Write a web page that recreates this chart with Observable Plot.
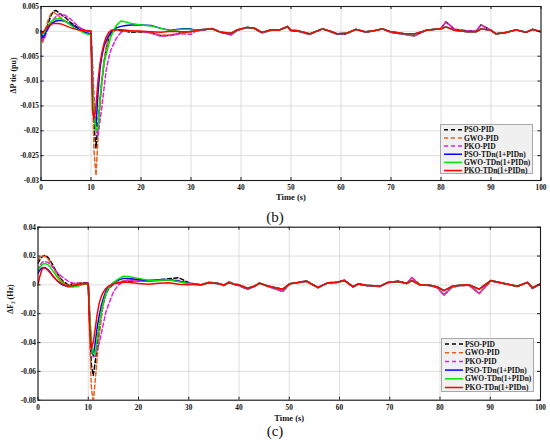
<!DOCTYPE html>
<html>
<head>
<meta charset="utf-8">
<script src="https://cdn.jsdelivr.net/npm/d3@7"></script>
<script src="https://cdn.jsdelivr.net/npm/@observablehq/plot@0.6"></script>
<style>
  html, body { margin: 0; padding: 0; background: #fff; }
  body { width: 550px; height: 445px; overflow: hidden; position: relative; font-family: "Liberation Serif", serif; }
  .panel { position: absolute; left: 0; z-index: 1; }
  .cap { position: absolute; left: 0; width: 550px; text-align: center; font-size: 15px; line-height: 18px; color: #111; z-index: 3; }
  .legend { position: absolute; background: #f0f0f0; border: 0.7px solid #a8a8a8; box-sizing: border-box; z-index: 2; }
  .legend svg { display: block; }
</style>
</head>
<body>
<div id="pb" class="panel" style="top:0px"></div>
<div class="cap" style="top:208px">(b)</div>
<div id="pc" class="panel" style="top:220px"></div>
<div class="cap" style="top:421.5px">(c)</div>
<script>
// ---------- shared ----------
const seriesNames = ["PSO-PID", "GWO-PID", "PKO-PID", "PSO-TDn(1+PIDn)", "GWO-TDn(1+PIDn)", "PKO-TDn(1+PIDn)"];
const seriesColors = ["#000000", "#e8601c", "#e020e0", "#0000ff", "#00e600", "#ff0000"];
const seriesDashed = [true, true, true, false, false, false];
const xTicks = [0, 10, 20, 30, 40, 50, 60, 70, 80, 90, 100];

// transient time grid (s)
const T = [0, 0.3, 0.7, 1, 1.5, 2, 2.5, 3, 3.5, 4, 4.5, 5, 6, 7, 8, 9, 10, 10.3, 10.6, 11, 11.4, 11.8, 12.2, 12.6, 13, 13.5, 14, 15, 16, 17, 18, 20, 22, 24, 26, 28, 30];

// ---------- panel (b): ΔP tie (pu) ----------
const bYTicks = [0.005, 0, -0.005, -0.01, -0.015, -0.02, -0.025, -0.03];
const bPsoPid = [0, -0.0015, -0.0012, 0.0002, 0.0018, 0.0032, 0.0041, 0.0042, 0.0038, 0.0034, 0.0030, 0.0027, 0.0017, 0.0010, 0.0005, 0.0002, 0.0000, -0.0100, -0.0190, -0.0235, -0.0185, -0.0140, -0.0098, -0.0062, -0.0037, -0.0015, -0.0003, 0.0004, 0.0001, 0.0000, -0.0002, -0.0001, -0.0002, -0.0009, -0.0008, -0.0003, 0.0000];
const bGwoPid = [0, -0.0024, -0.0008, 0.0008, 0.0025, 0.0036, 0.0038, 0.0035, 0.0031, 0.0027, 0.0023, 0.0020, 0.0013, 0.0008, 0.0004, 0.0001, 0.0000, -0.0130, -0.0240, -0.0290, -0.0215, -0.0150, -0.0100, -0.0065, -0.0035, -0.0013, -0.0002, 0.0003, 0.0003, 0.0001, 0.0000, -0.0001, -0.0002, -0.0008, -0.0007, -0.0004, -0.0001];
const bPkoPid = [0, -0.0018, -0.0014, -0.0005, 0.0007, 0.0016, 0.0024, 0.0030, 0.0034, 0.0035, 0.0034, 0.0031, 0.0024, 0.0014, 0.0006, 0.0001, -0.0002, -0.0060, -0.0130, -0.0190, -0.0210, -0.0180, -0.0150, -0.0115, -0.0080, -0.0055, -0.0037, -0.0015, -0.0002, 0.0001, 0.0000, 0.0000, -0.0004, -0.0010, -0.0008, -0.0005, -0.0006];
const bPsoTdn = [0, -0.0012, -0.0008, 0.0000, 0.0008, 0.0014, 0.0018, 0.0021, 0.0022, 0.0022, 0.0021, 0.0019, 0.0014, 0.0008, 0.0002, -0.0003, -0.0005, -0.0120, -0.0175, -0.0190, -0.0125, -0.0075, -0.0048, -0.0030, -0.0020, -0.0009, -0.0002, 0.0007, 0.0010, 0.0012, 0.0013, 0.0013, 0.0012, 0.0006, 0.0002, 0.0005, 0.0005];
const bGwoTdn = [0, -0.0006, -0.0002, 0.0005, 0.0013, 0.0019, 0.0023, 0.0025, 0.0026, 0.0025, 0.0022, 0.0019, 0.0012, 0.0005, 0.0000, -0.0005, -0.0007, -0.0100, -0.0160, -0.0200, -0.0195, -0.0135, -0.0095, -0.0064, -0.0048, -0.0028, -0.0010, 0.0011, 0.0021, 0.0019, 0.0016, 0.0013, 0.0011, 0.0006, 0.0001, 0.0004, 0.0004];
const bPkoTdn = [0, -0.0003, 0.0002, 0.0007, 0.0011, 0.0014, 0.0016, 0.0016, 0.0016, 0.0015, 0.0013, 0.0011, 0.0007, 0.0004, 0.0002, 0.0001, 0.0000, -0.0160, -0.0175, -0.0150, -0.0100, -0.0065, -0.0042, -0.0025, -0.0012, -0.0003, 0.0002, 0.0003, 0.0003, 0.0002, 0.0001, 0.0000, -0.0001, -0.0002, 0.0000, -0.0001, -0.0001];
const bTailT = [31, 32, 34.2, 36, 38, 39.2, 41.2, 42.6, 44.2, 45.9, 47.5, 49.3, 50, 51.5, 53.7, 56.3, 58, 59.3, 61, 63, 65, 66.5, 68.3, 70, 72.7, 74.7, 77, 80, 81, 82.7, 85.3, 87, 88, 90, 91, 92.7, 95, 97, 98.3, 100];
const bTailTdn = [0.0002, 0.0003, 0.0005, -0.0002, -0.0004, 0.0003, 0.0008, 0.0007, -0.0002, 0.0003, 0.0002, 0.0009, 0.0002, 0.0001, -0.0005, 0.0005, 0.0000, -0.0005, -0.0004, 0.0004, -0.0001, 0.0001, 0.0005, -0.0001, -0.0005, -0.0005, 0.0002, 0.0005, 0.0009, 0.0002, -0.0001, -0.0001, 0.0005, 0.0002, -0.0005, -0.0003, 0.0003, -0.0002, 0.0004, -0.0001];
const bTailPid = [0.0001, 0.0002, 0.0006, -0.0002, -0.0007, 0.0002, 0.0008, 0.0006, -0.0003, 0.0002, 0.0002, 0.0010, 0.0001, 0.0000, -0.0006, 0.0005, -0.0001, -0.0006, -0.0005, 0.0004, -0.0002, 0.0001, 0.0005, -0.0002, -0.0006, -0.0009, 0.0002, 0.0006, 0.0019, 0.0004, 0.0001, 0.0000, 0.0013, 0.0002, -0.0005, -0.0003, 0.0003, -0.0002, 0.0004, -0.0001];

// ---------- panel (c): ΔF2 (Hz) ----------
const cYTicks = [0.04, 0.02, 0, -0.02, -0.04, -0.06, -0.08];
const cPsoPid = [0.015, 0.017, 0.019, 0.020, 0.0205, 0.019, 0.0165, 0.0135, 0.010, 0.007, 0.0045, 0.0025, 0.0000, 0.0008, 0.0012, 0.0015, 0.0012, -0.030, -0.055, -0.063, -0.053, -0.042, -0.031, -0.021, -0.013, -0.0065, -0.003, 0.0005, 0.0015, 0.0022, 0.0025, 0.0025, 0.0028, 0.0035, 0.0042, 0.0050, 0.0015];
const cGwoPid = [0.017, 0.019, 0.020, 0.020, 0.0195, 0.018, 0.015, 0.012, 0.009, 0.006, 0.0035, 0.0015, -0.0005, 0.0005, 0.0010, 0.0012, 0.0010, -0.040, -0.070, -0.082, -0.066, -0.050, -0.035, -0.023, -0.013, -0.006, -0.002, 0.0008, 0.0020, 0.0028, 0.0030, 0.0025, 0.0025, 0.0030, 0.0035, 0.0025, 0.0010];
const cPkoPid = [0.010, 0.013, 0.015, 0.016, 0.016, 0.0155, 0.014, 0.012, 0.010, 0.008, 0.0065, 0.005, 0.0025, 0.0012, 0.0012, 0.0012, 0.0010, -0.020, -0.040, -0.050, -0.049, -0.045, -0.040, -0.034, -0.027, -0.019, -0.014, -0.005, 0.000, 0.002, 0.0035, 0.0030, 0.0025, 0.0030, 0.0035, 0.0030, 0.0010];
const cPsoTdn = [0.008, 0.010, 0.0115, 0.012, 0.0118, 0.0105, 0.0085, 0.006, 0.004, 0.0022, 0.0008, -0.0002, -0.0013, -0.0010, 0.0000, 0.0008, 0.0010, -0.025, -0.042, -0.049, -0.040, -0.029, -0.021, -0.0145, -0.0095, -0.0045, -0.0015, 0.0015, 0.0033, 0.0045, 0.0044, 0.0037, 0.0030, 0.0035, 0.0038, 0.0025, 0.0012];
const cGwoTdn = [0.010, 0.012, 0.0135, 0.0145, 0.0148, 0.0138, 0.012, 0.0095, 0.007, 0.0045, 0.0025, 0.0010, -0.0012, -0.0015, -0.0008, 0.0002, 0.0008, -0.020, -0.038, -0.048, -0.048, -0.037, -0.027, -0.019, -0.012, -0.006, -0.0025, 0.0015, 0.0042, 0.0060, 0.0058, 0.0045, 0.0032, 0.0032, 0.0035, 0.0022, 0.0010];
const cPkoTdn = [0.000, 0.005, 0.010, 0.0118, 0.0115, 0.010, 0.008, 0.006, 0.004, 0.0025, 0.0012, 0.0003, -0.0010, -0.0005, 0.0003, 0.0008, 0.0010, -0.030, -0.044, -0.040, -0.030, -0.020, -0.0125, -0.008, -0.005, -0.0025, -0.0010, 0.0005, 0.0015, 0.0020, 0.0018, 0.0010, 0.0005, 0.0012, 0.0015, 0.0005, 0.0000];
const cTailT = [31, 32.4, 34, 35.7, 37, 38, 39, 40, 41.7, 43, 44.1, 45.7, 48.7, 50.1, 51.5, 53.4, 55.7, 57.7, 59.4, 61, 62.7, 63.7, 65.4, 68, 69.7, 71.7, 73.4, 74.4, 76, 78, 79.5, 80.8, 82.4, 84, 85.8, 87.8, 90.1, 92.1, 93.5, 95.4, 97.4, 98.4, 100];
const cTailTdn = [0.0005, 0.0000, 0.0015, 0.0010, 0.0000, 0.0015, 0.0005, 0.0000, -0.0023, -0.0010, 0.0012, -0.0008, -0.0030, 0.0007, 0.0015, 0.0025, -0.0017, 0.0014, 0.0017, 0.0030, -0.0012, 0.0006, -0.0003, -0.0010, 0.0017, 0.0023, 0.0010, 0.0030, 0.0000, -0.0003, -0.0015, -0.0040, -0.0010, -0.0003, 0.0000, -0.0030, 0.0030, 0.0014, 0.0005, -0.0010, 0.0017, -0.0020, 0.0007];
const cTailPid = [0.0008, 0.0000, 0.0018, 0.0012, -0.0005, 0.0020, 0.0005, -0.0005, -0.0030, -0.0012, 0.0012, -0.0010, -0.0045, 0.0008, 0.0015, 0.0028, -0.0020, 0.0015, 0.0018, 0.0032, -0.0015, 0.0006, -0.0005, -0.0012, 0.0018, 0.0025, 0.0010, 0.0050, 0.0000, -0.0005, -0.0020, -0.0070, -0.0015, -0.0005, -0.0003, -0.0060, 0.0028, 0.0014, 0.0005, -0.0012, 0.0018, -0.0025, 0.0007];

// ---------- build ----------
function rows(vals, tailT, tailVals) {
  return T.map((t, i) => ({t, v: vals[i]})).concat(tailT.map((t, i) => ({t, v: tailVals[i]})));
}
const fmt = d => (d === 0 ? "0" : String(+d.toFixed(3)));
const FONT = '"Liberation Serif", "Times New Roman", serif';

function panel(cfg) {
  const innerW = 550 - cfg.ml - cfg.mr;
  const innerH = cfg.height - cfg.mt - cfg.mb;
  const ink = "#1a1a1a";
  const lines = cfg.series.map((data, i) =>
    Plot.line(data, {
      x: "t", y: "v",
      stroke: seriesColors[i],
      strokeWidth: 1.5,
      strokeDasharray: seriesDashed[i] ? "4,2.5" : null,
      clip: true
    })
  );
  return Plot.plot({
    width: 550,
    height: cfg.height,
    marginLeft: cfg.ml, marginRight: cfg.mr, marginTop: cfg.mt, marginBottom: cfg.mb,
    style: {fontFamily: FONT, background: "transparent", color: "#000", overflow: "visible"},
    x: {domain: [0, 100]},
    y: {domain: cfg.yDomain},
    marks: [
      Plot.gridX(xTicks, {stroke: "#d6d6d6", strokeOpacity: 1, strokeWidth: 0.8}),
      Plot.gridY(cfg.yTicks, {stroke: "#d6d6d6", strokeOpacity: 1, strokeWidth: 0.8}),
      ...lines,
      Plot.frame({stroke: ink, strokeWidth: 1.1}),
      Plot.tickX(xTicks, {x: d => d, insetTop: innerH - 3, stroke: ink}),
      Plot.tickX(xTicks, {x: d => d, insetBottom: innerH - 3, stroke: ink}),
      Plot.tickY(cfg.yTicks, {y: d => d, insetRight: innerW - 3, stroke: ink}),
      Plot.tickY(cfg.yTicks, {y: d => d, insetLeft: innerW - 3, stroke: ink}),
      Plot.axisX(xTicks, {tickSize: 0, tickPadding: cfg.xPad, fontSize: 7.3, fontWeight: "bold", label: null, tickFormat: d => String(d), fill: "#111"}),
      Plot.axisY(cfg.yTicks, {tickSize: 0, tickPadding: 2, fontSize: 7.3, fontWeight: "bold", label: null, tickFormat: fmt, fill: "#111"}),
      Plot.text([cfg.yLabel], {frameAnchor: "left", dx: cfg.ylDx, rotate: -90, text: d => d, fontSize: 8, fontWeight: "bold", lineAnchor: "middle", fill: "#111"}),
      Plot.text(["Time (s)"], {frameAnchor: "bottom", dy: cfg.xlDy, text: d => d, fontSize: 8.5, fontWeight: "bold", lineAnchor: "middle", fill: "#111"})
    ]
  });
}

function legend(cfg) {
  const div = d3.select("body").append("div").attr("class", "legend")
    .style("left", cfg.left + "px").style("top", cfg.top + "px")
    .style("width", cfg.width + "px").style("height", cfg.height + "px");
  const svg = div.append("svg").attr("width", cfg.width).attr("height", cfg.height);
  seriesNames.forEach((name, i) => {
    const y = cfg.first + i * cfg.step;
    svg.append("line").attr("x1", 3).attr("x2", 21).attr("y1", y).attr("y2", y)
      .attr("stroke", seriesColors[i]).attr("stroke-width", 1.5)
      .attr("stroke-dasharray", seriesDashed[i] ? "4,3" : null);
    svg.append("text").attr("x", 23).attr("y", y).attr("dy", "0.35em")
      .attr("font-family", FONT).attr("font-size", 7.5).attr("font-weight", "bold")
      .attr("fill", "#111").text(name);
  });
}

const bSeries = [
  rows(bPsoPid, bTailT, bTailPid), rows(bGwoPid, bTailT, bTailPid), rows(bPkoPid, bTailT, bTailPid),
  rows(bPsoTdn, bTailT, bTailTdn), rows(bGwoTdn, bTailT, bTailTdn), rows(bPkoTdn, bTailT, bTailTdn)
];
const cSeries = [
  rows(cPsoPid, cTailT, cTailPid), rows(cGwoPid, cTailT, cTailPid), rows(cPkoPid, cTailT, cTailPid),
  rows(cPsoTdn, cTailT, cTailTdn), rows(cGwoTdn, cTailT, cTailTdn), rows(cPkoTdn, cTailT, cTailTdn)
];

document.getElementById("pb").append(panel({
  series: bSeries, yDomain: [-0.03, 0.005], yTicks: bYTicks, yLabel: "ΔP tie (pu)",
  height: 202, ml: 40.5, mr: 9.5, mt: 6, mb: 22, xPad: 4, ylDx: -27.2, xlDy: 16.4
}));
document.getElementById("pc").append(panel({
  series: cSeries, yDomain: [-0.08, 0.04], yTicks: cYTicks, yLabel: "ΔF₂ (Hz)",
  height: 202, ml: 37.5, mr: 10, mt: 6.7, mb: 22.3, xPad: 4.5, ylDx: -27.5, xlDy: 18.3
}));

legend({left: 440, top: 123.5, width: 92.5, height: 50, first: 4.8, step: 8.15});
legend({left: 441, top: 338.3, width: 93, height: 53.4, first: 5, step: 8.7});
</script>
</body>
</html>
